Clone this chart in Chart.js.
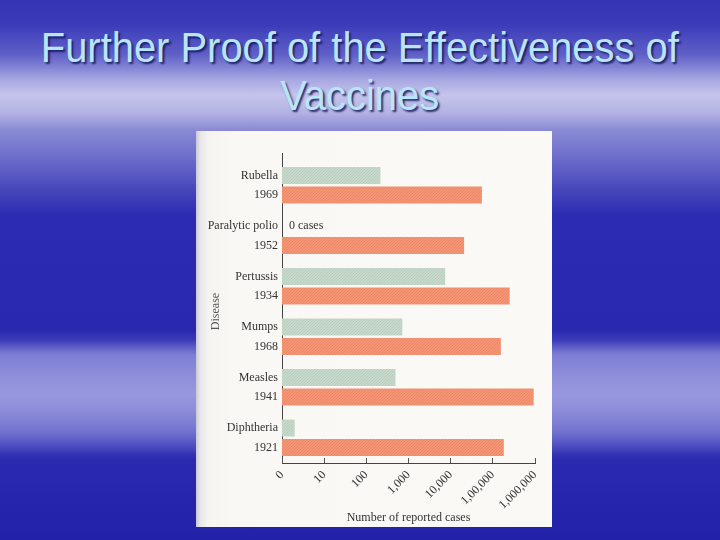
<!DOCTYPE html>
<html>
<head>
<meta charset="utf-8">
<script src="https://cdn.jsdelivr.net/npm/chart.js@4/dist/chart.umd.min.js"></script>
<style>
  html, body { margin: 0; padding: 0; }
  body {
    width: 720px; height: 540px; overflow: hidden; position: relative;
    background:
      linear-gradient(to bottom, rgba(255,255,255,0) 340px, rgba(200,200,245,0.35) 355px, rgba(190,190,240,0.45) 385px, rgba(200,200,245,0.35) 410px, rgba(180,180,235,0.3) 430px, rgba(255,255,255,0) 455px),
      linear-gradient(to bottom, #3434b4 0px, #3c3cba 25px, #6060c8 55px, #a8a8e2 80px, #c4c4ec 95px, #b4b4e4 112px, #8a8ad4 130px, #6a6acb 160px, #4646bc 190px, #2c2cb2 215px, #2929b0 330px, #5656c4 355px, #7a7ad0 395px, #5a5ac6 430px, #2a2ab0 460px, #2222a8 540px);
  }
  #title {
    position: absolute; left: 0; top: 24px; width: 720px;
    text-align: center; font-family: "Liberation Sans", Arial, sans-serif;
    font-size: 42px; line-height: 48px; color: #b8e6f8;
    text-shadow: 2px 2px 2px rgba(20,20,90,0.85);
  }
  #title span { display: inline-block; transform: scaleX(0.95); transform-origin: center; }
  #box {
    position: absolute; left: 196px; top: 131px; width: 356px; height: 396px;
    background: linear-gradient(to right, #c9c9d6 0px, #e6e5ea 4px, #f6f4f0 12px, #faf8f4 40px, #faf9f6 100%);
  }
  #chart { position: absolute; left: 0; top: 0; }
</style>
</head>
<body>
<div id="title"><span>Further Proof of the Effectiveness of</span><br><span>Vaccines</span></div>
<div id="box"><canvas id="chart" width="356" height="396"></canvas></div>
<script>
// ---- data ----
const diseases = ["Rubella", "Paralytic polio", "Pertussis", "Mumps", "Measles", "Diphtheria"];
const peakYears = ["1969", "1952", "1934", "1968", "1941", "1921"];
const recentCases = [216, 0, 7400, 712, 490, 2];
const peakCases = [55000, 20800, 251000, 155000, 930000, 182000];
const tickValues = [1, 10, 100, 1000, 10000, 100000, 1000000];
const tickLabels = ["0", "10", "100", "1,000", "10,000", "1,00,000", "1,000,000"];

function hatch(base, line) {
  const c = document.createElement('canvas');
  c.width = 3; c.height = 3;
  const g = c.getContext('2d');
  g.fillStyle = base; g.fillRect(0, 0, 3, 3);
  g.fillStyle = line;
  for (let i = 0; i < 3; i++) g.fillRect(i, 2 - i, 1, 1);
  return g.createPattern(c, 'repeat');
}

const serif = '"Liberation Serif", "Times New Roman", serif';
const textColor = '#333333';

const zeroLabelPlugin = {
  id: 'zeroLabel',
  afterDatasetsDraw(chart) {
    const ctx = chart.ctx;
    const xs = chart.scales.x;
    const meta = chart.getDatasetMeta(0);
    ctx.save();
    ctx.font = '12px ' + serif;
    ctx.fillStyle = textColor;
    ctx.textAlign = 'left';
    ctx.textBaseline = 'middle';
    recentCases.forEach((v, i) => {
      if (v === 0 && meta.data[i]) {
        ctx.fillText(v + ' cases', xs.left + 7, meta.data[i].y);
      }
    });
    ctx.restore();
  }
};

const axisDecorPlugin = {
  id: 'axisDecor',
  afterDraw(chart) {
    const ctx = chart.ctx;
    const xs = chart.scales.x;
    const ys = chart.scales.y;
    ctx.save();
    ctx.strokeStyle = '#555555';
    ctx.lineWidth = 1;
    // inward tick marks on the value axis
    tickValues.forEach(v => {
      const x = Math.round(xs.getPixelForValue(v) - 0.5) + 0.5;
      ctx.beginPath();
      ctx.moveTo(x, xs.top);
      ctx.lineTo(x, xs.top - 5);
      ctx.stroke();
    });
    // category axis line runs a little above the first group
    ctx.strokeStyle = '#444444';
    const ax = Math.round(ys.right - 0.5) + 0.5;
    ctx.beginPath();
    ctx.moveTo(ax, ys.top + 1);
    ctx.lineTo(ax, ys.top - 7);
    ctx.stroke();
    ctx.restore();
  }
};

const ctx = document.getElementById('chart').getContext('2d');
new Chart(ctx, {
  type: 'bar',
  data: {
    labels: diseases.map((d, i) => [d, peakYears[i]]),
    datasets: [
      { label: 'Recent', data: recentCases, backgroundColor: hatch('#c6d9cb', '#b8cdbe'),
        categoryPercentage: 0.77, barPercentage: 0.87 },
      { label: 'Pre-vaccine peak', data: peakCases, backgroundColor: hatch('#f49576', '#ec8766'),
        categoryPercentage: 0.77, barPercentage: 0.87 }
    ]
  },
  options: {
    indexAxis: 'y',
    responsive: false,
    animation: false,
    layout: { padding: { top: 29, right: 17, bottom: 0, left: 0 } },
    plugins: { legend: { display: false }, tooltip: { enabled: false }, title: { display: false } },
    scales: {
      x: {
        type: 'logarithmic',
        min: 1, max: 1000000,
        afterBuildTicks(scale) { scale.ticks = tickValues.map(v => ({ value: v })); },
        afterFit(scale) { scale.height = 64; },
        grid: { display: false, drawTicks: false },
        border: { display: true, color: '#444444', width: 1 },
        ticks: {
          autoSkip: false, minRotation: 45, maxRotation: 45, padding: 5,
          color: textColor, font: { family: serif, size: 12 },
          callback(value, index) { return tickLabels[index]; }
        },
        title: { display: true, text: 'Number of reported cases', color: textColor,
          font: { family: serif, size: 12 }, padding: { top: 0, bottom: 2 } }
      },
      y: {
        afterFit(scale) { scale.width = 86; },
        grid: { display: false, drawTicks: false },
        border: { display: true, color: '#444444', width: 1 },
        ticks: { color: textColor, padding: 4, font: { family: serif, size: 12, lineHeight: 1.625 } },
        title: { display: true, text: 'Disease', color: '#555555',
          font: { family: serif, size: 12 }, padding: { top: 13, bottom: 0 } }
      }
    }
  },
  plugins: [zeroLabelPlugin, axisDecorPlugin]
});
</script>
</body>
</html>
